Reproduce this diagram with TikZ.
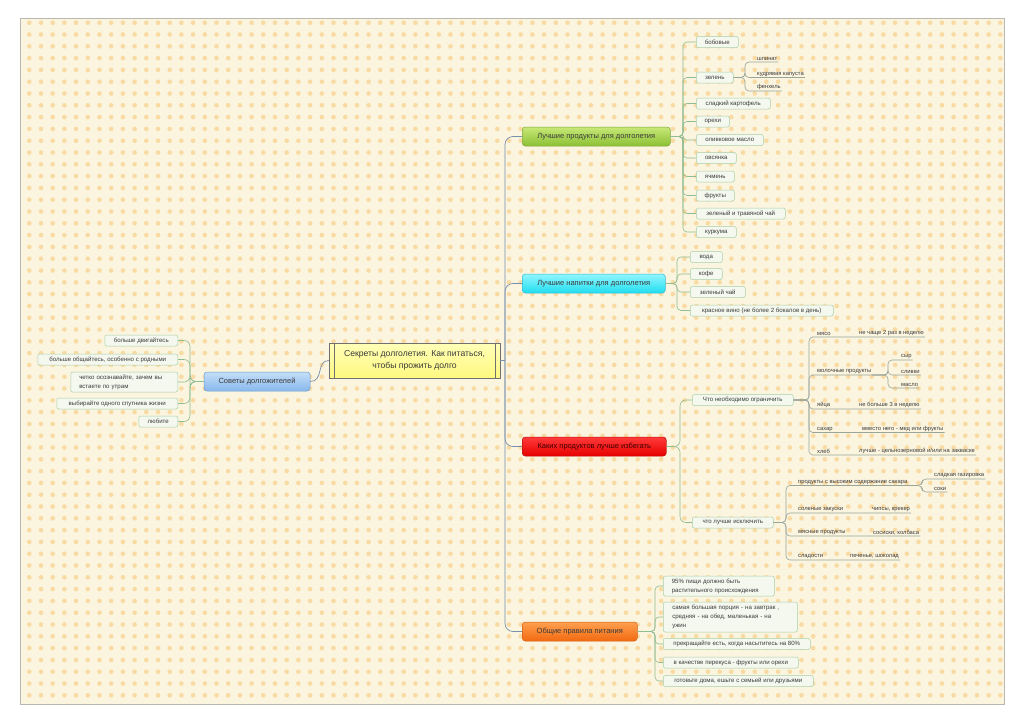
\documentclass[tikz,border=0pt]{standalone}
\usepackage{fontspec}
\setmainfont{Liberation Sans}
\definecolor{bgc}{HTML}{FBF4DE}
\definecolor{dotc}{HTML}{F8DAA2}
\definecolor{framec}{HTML}{B8B8B0}
\definecolor{leaff}{HTML}{F4F8EE}
\definecolor{leafb}{HTML}{A8D0A8}
\definecolor{lcol}{HTML}{90BC92}
\definecolor{ucol}{HTML}{9AA59A}
\definecolor{mcol}{HTML}{7890AC}
\definecolor{txt}{HTML}{3A3A3A}
\definecolor{gtop}{HTML}{C8E878}\definecolor{gbot}{HTML}{8CC034}\definecolor{gbrd}{HTML}{7EA83A}
\definecolor{ctop}{HTML}{90F6FF}\definecolor{cbot}{HTML}{20DDF0}\definecolor{cbrd}{HTML}{38B8D0}
\definecolor{rtop}{HTML}{FF3A3A}\definecolor{rbot}{HTML}{E80000}\definecolor{rbrd}{HTML}{B81010}
\definecolor{otop}{HTML}{FFA050}\definecolor{obot}{HTML}{F26A10}\definecolor{obrd}{HTML}{D0601A}
\definecolor{btop}{HTML}{C4DEF8}\definecolor{bbot}{HTML}{88B8EC}\definecolor{bbrd}{HTML}{6C9CD0}
\definecolor{ytop}{HTML}{FFFFB8}\definecolor{ybot}{HTML}{FFF880}\definecolor{ybrd}{HTML}{707070}
\newcommand\lfont{\fontsize{6.1}{9}\selectfont}
\newcommand\sfont{\fontsize{5.8}{6.8}\selectfont}
\newcommand\bfont{\fontsize{7.5}{9}\selectfont}
\newcommand\cfont{\fontsize{8.6}{12}\selectfont}
\begin{document}
\begin{tikzpicture}[x=1pt,y=-1pt,
 leaf/.style={draw=leafb, fill=leaff, rounded corners=2pt, minimum height=11pt, inner ysep=1pt, inner xsep=2pt, font=\lfont, text=txt, line width=0.5pt},
 leafL/.style={leaf, anchor=west},
 leafR/.style={leaf, anchor=east},
 ul/.style={inner sep=1pt, font=\sfont, text=txt, anchor=south west},
 lc/.style={draw=lcol, line width=0.6pt, rounded corners=4pt},
 uc/.style={draw=ucol, line width=0.6pt, rounded corners=4pt},
 mc/.style={draw=mcol, line width=0.7pt, rounded corners=8pt},
 branch/.style={rounded corners=3pt, minimum height=19pt, inner sep=1pt, font=\bfont, anchor=west, line width=0.5pt, text=txt},
]
\useasboundingbox (0,0) rectangle (1024,723);
\fill[white] (0,0) rectangle (1024,723);
\fill[bgc] (20,18) rectangle (1004,704);
\begin{scope}
\clip (20,18) rectangle (1004,704);
\foreach \j in {0,...,58} { \fill[dotc] \foreach \i in {0,...,83} { (29.3+\i*11.7, 22.7+\j*11.8) circle[radius=2.3] }; }
\end{scope}
\draw[framec, line width=0.6pt] (20,18) rectangle (1004,704);

% central
\node[draw=ybrd, top color=ytop, bottom color=ybot, minimum width=171pt, minimum height=35pt, align=center, font=\cfont, text=txt, inner sep=1pt, line width=0.5pt] (c) at (414.5,360.5) {Секреты долголетия. Как питаться,\\чтобы прожить долго};
\draw[ybrd, line width=0.5pt] ([xshift=5pt]c.north west) -- ([xshift=5pt]c.south west);
\draw[ybrd, line width=0.5pt] ([xshift=-5pt]c.north east) -- ([xshift=-5pt]c.south east);

% branches
\node[branch, draw=gbrd, top color=gtop, bottom color=gbot, minimum width=148pt] (b1) at (522,136.5) {Лучшие продукты для долголетия};
\node[branch, draw=cbrd, top color=ctop, bottom color=cbot, minimum width=143pt] (b2) at (522,283.5) {Лучшие напитки для долголетия};
\node[branch, draw=rbrd, top color=rtop, bottom color=rbot, minimum width=144pt, text=black!75!red] (b3) at (522,446.5) {Каких продуктов лучше избегать};
\node[branch, draw=obrd, top color=otop, bottom color=obot, minimum width=115pt] (b4) at (522,631.5) {Общие правила питания};
\node[branch, draw=bbrd, top color=btop, bottom color=bbot, minimum width=106pt, anchor=center] (sov) at (257,381.5) {Советы долгожителей};

% main connectors
\coordinate (sp) at (505,360.5);
\draw[mcol, line width=0.7pt] (c.east) -- (sp);
\foreach \b in {b1,b2,b3,b4} \draw[mc] (sp) |- (\b.west);
\draw[mcol, line width=0.7pt] (sov.east) .. controls (324,381.5) and (316,360.5) .. (c.west);

% products
\node[leafL, minimum width=42pt] (p1) at (696,42) {бобовые};
\node[leafL, minimum width=37pt] (p2) at (696,77.5) {зелень};
\node[leafL, minimum width=74pt] (p3) at (696,103.5) {сладкий картофель};
\node[leafL, minimum width=33pt] (p4) at (696,121.5) {орехи};
\node[leafL, minimum width=67pt] (p5) at (696,140) {оливковое масло};
\node[leafL, minimum width=40pt] (p6) at (696,158) {овсянка};
\node[leafL, minimum width=38pt] (p7) at (696,176.5) {ячмень};
\node[leafL, minimum width=38pt] (p8) at (696,195.5) {фрукты};
\node[leafL, minimum width=89pt] (p9) at (696,213.5) {зеленый и травяной чай};
\node[leafL, minimum width=40pt] (p10) at (696,232) {куркума};
\coordinate (f1) at (683,136.5);
\foreach \n in {p1,p2,p3,p4,p5,p6,p7,p8,p9,p10} \draw[lc] (b1.east) -- (f1) |- (\n.west);

\node[ul] (z1) at (756,62) {шпинат};
\node[ul] (z2) at (756,77.5) {кудрявая капуста};
\node[ul] (z3) at (756,91) {фенхель};
\coordinate (f5) at (745,77.5);
\foreach \n in {z1,z2,z3} \draw[uc] (p2.east) -- (f5) |- (\n.south west) -- (\n.south east);

% drinks
\node[leafL, minimum width=32pt] (d1) at (690,257) {вода};
\node[leafL, minimum width=32pt] (d2) at (690,274) {кофе};
\node[leafL, minimum width=55pt] (d3) at (690,292) {зеленый чай};
\node[leafL, minimum width=143pt] (d4) at (690,310.5) {красное вино (не более 2 бокалов в день)};
\coordinate (f2) at (677,283.5);
\foreach \n in {d1,d2,d3,d4} \draw[lc] (b2.east) -- (f2) |- (\n.west);

% avoid
\node[leafL, minimum width=101pt] (ogr) at (692,400) {Что необходимо ограничить};
\node[leafL, minimum width=81pt] (isk) at (692,522.5) {что лучше исключить};
\coordinate (f3) at (680,446.5);
\foreach \n in {ogr,isk} \draw[lc, rounded corners=6pt] (b3.east) -- (f3) |- (\n.west);

\node[ul] (m1) at (816,337) {мясо};
\node[ul] (m1c) at (858,337) {не чаще 2 раз в неделю};
\node[ul] (m2) at (816,375) {молочные продукты};
\node[ul] (m3) at (816,409) {яйца};
\node[ul] (m3c) at (858,409) {не больше 3 в неделю};
\node[ul] (m4) at (816,432.5) {сахар};
\node[ul] (m4c) at (861,432.5) {вместо него - мед или фрукты};
\node[ul] (m5) at (816,455) {хлеб};
\node[ul] (m5c) at (858,455) {лучше - цельнозерновой и/или на закваске};
\coordinate (g1) at (809,400);
\draw[uc] (ogr.east) -- (g1) |- (m1.south west) -- (m1.south east) -- (m1c.south west) -- (m1c.south east);
\draw[uc] (ogr.east) -- (g1) |- (m2.south west) -- (m2.south east);
\draw[uc] (ogr.east) -- (g1) |- (m3.south west) -- (m3.south east) -- (m3c.south west) -- (m3c.south east);
\draw[uc] (ogr.east) -- (g1) |- (m4.south west) -- (m4.south east) -- (m4c.south west) -- (m4c.south east);
\draw[uc] (ogr.east) -- (g1) |- (m5.south west) -- (m5.south east) -- (m5c.south west) -- (m5c.south east);

\node[ul] (k1) at (900,360) {сыр};
\node[ul] (k2) at (900,375) {сливки};
\node[ul] (k3) at (900,388) {масло};
\coordinate (g2) at (888,375);
\foreach \n in {k1,k2,k3} \draw[uc] (m2.south east) -- (g2) |- (\n.south west) -- (\n.south east);

\node[ul] (e1) at (797,485.5) {продукты с высоким содержание сахара};
\node[ul] (e2) at (797,513) {соленые закуски};
\node[ul] (e2c) at (871,513) {чипсы, крекер};
\node[ul] (e3) at (797,536) {мясные продукты};
\node[ul] (e3c) at (872,536) {сосиски, колбаса};
\node[ul] (e4) at (797,560) {сладости};
\node[ul] (e4c) at (849,560) {печенье, шоколад};
\coordinate (g3) at (786,522.5);
\draw[uc] (isk.east) -- (g3) |- (e1.south west) -- (e1.south east);
\draw[uc] (isk.east) -- (g3) |- (e2.south west) -- (e2.south east) -- (e2c.south west) -- (e2c.south east);
\draw[uc] (isk.east) -- (g3) |- (e3.south west) -- (e3.south east) -- (e3c.south west) -- (e3c.south east);
\draw[uc] (isk.east) -- (g3) |- (e4.south west) -- (e4.south east) -- (e4c.south west) -- (e4c.south east);

\node[ul] (s1) at (933,479) {сладкая газировка};
\node[ul] (s2) at (933,492) {соки};
\coordinate (g4) at (922,485.5);
\foreach \n in {s1,s2} \draw[uc] (e1.south east) -- (g4) |- (\n.south west) -- (\n.south east);

% rules
\node[leafL, minimum width=111pt, minimum height=20pt, text width=94pt, align=left] (r1) at (663,586) {95\% пищи должно быть\\растительного происхождения};
\node[leafL, minimum width=134pt, minimum height=30pt, text width=116pt, align=left] (r2) at (663,617) {самая большая порция - на завтрак ,\\средняя - на обед, маленькая - на\\ужин};
\node[leafL, minimum width=147pt] (r3) at (663,644) {прекращайте есть, когда насытитесь на 80\%};
\node[leafL, minimum width=135pt] (r4) at (663,662.5) {в качестве перекуса - фрукты или орехи};
\node[leafL, minimum width=150pt] (r5) at (663,681) {готовьте дома, ешьте с семьей или друзьями};
\coordinate (f4) at (655,631.5);
\foreach \n in {r1,r2,r3,r4,r5} \draw[lc] (b4.east) -- (f4) |- (\n.west);

% left
\node[leafR, minimum width=73pt] (l1) at (178,340.5) {больше двигайтесь};
\node[leafR, minimum width=140pt] (l2) at (178,359.5) {больше общайтесь, особенно с родными};
\node[leafR, minimum width=107pt, minimum height=20pt, text width=90pt, align=left] (l3) at (178,382) {четко осознавайте, зачем вы\\встаете по утрам};
\node[leafR, minimum width=121pt] (l4) at (178,403.5) {выбирайте одного спутника жизни};
\node[leafR, minimum width=39pt] (l5) at (178,421.5) {любите};
\coordinate (f6) at (190,381.5);
\foreach \n in {l1,l2,l3,l4,l5} \draw[lc, rounded corners=6pt] (sov.west) -- (f6) |- (\n.east);
\end{tikzpicture}
\end{document}
